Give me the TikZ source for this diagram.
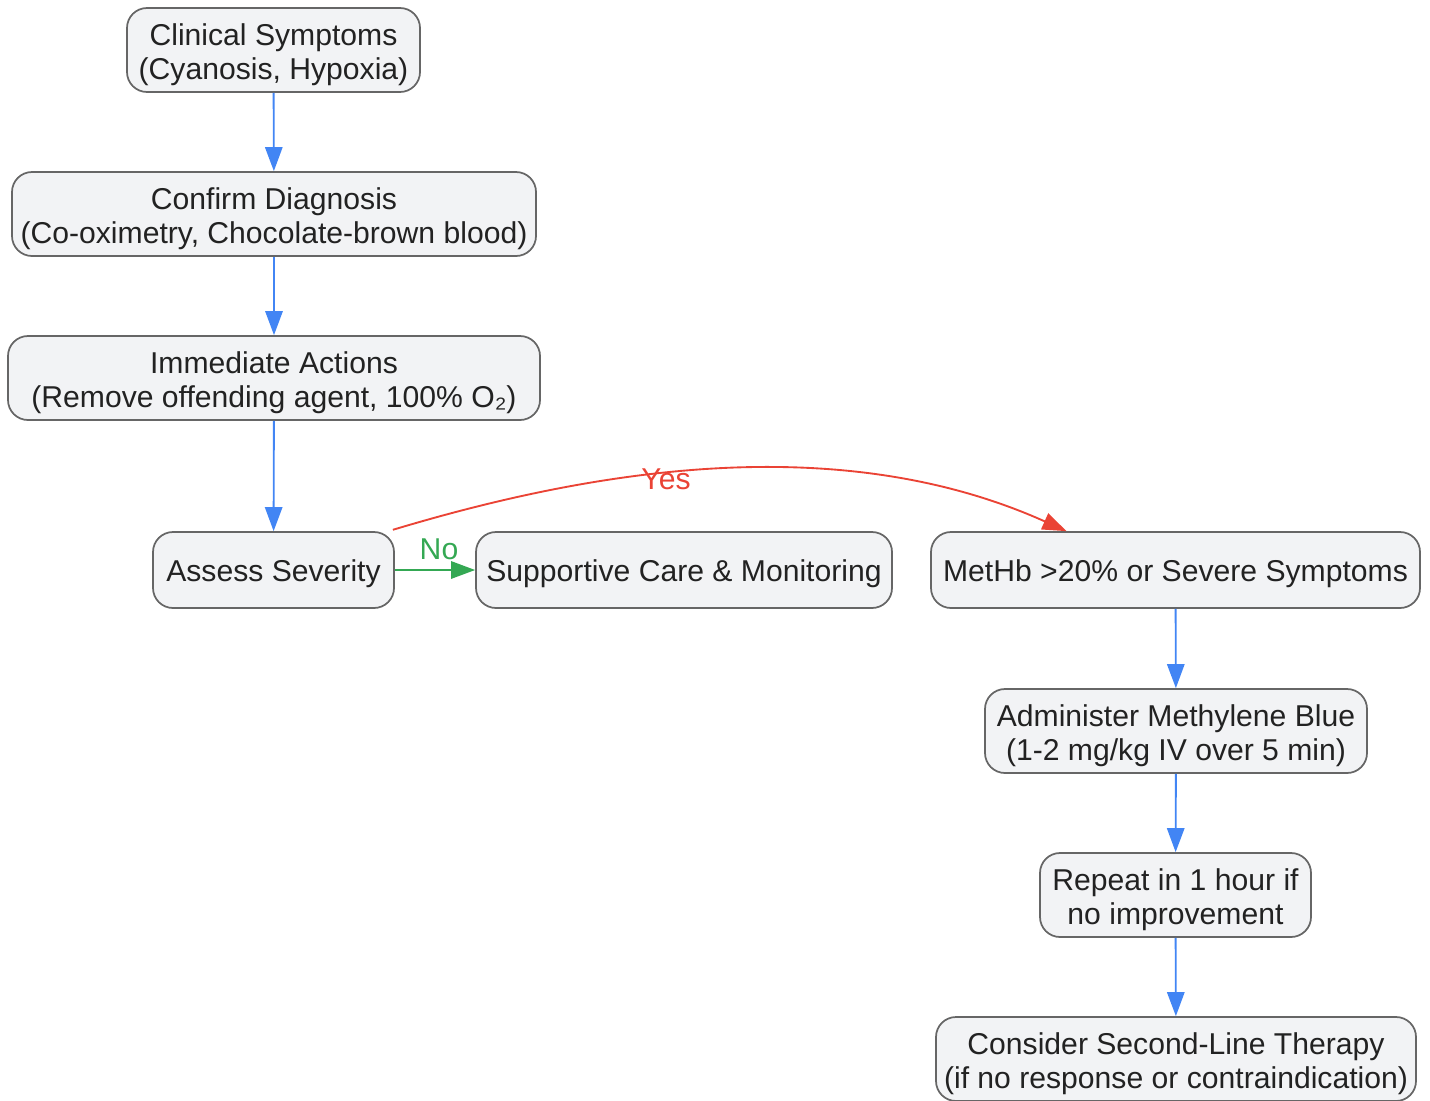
\documentclass[tikz,border=0pt]{standalone}
\usepackage{fontspec}
\setmainfont{Liberation Sans}
\usetikzlibrary{arrows.meta}
\definecolor{boxfill}{HTML}{F2F3F5}
\definecolor{boxline}{HTML}{666666}
\definecolor{txt}{HTML}{222222}
\definecolor{flowblue}{HTML}{4285F4}
\definecolor{flowgreen}{HTML}{34A853}
\definecolor{flowred}{HTML}{EA4335}
\newcommand\twolines[2]{\raisebox{-4.1pt}[\height][\depth]{\begin{tabular}{@{}c@{}}#1\\#2\end{tabular}}}
\begin{document}
\begin{tikzpicture}[x=0.75pt,y=-0.75pt,
  box/.style={draw=boxline, fill=boxfill, line width=1.3pt, rounded corners=15pt,
    align=center, text=txt, font=\fontsize{22.6}{25.5}\selectfont, inner sep=0pt,
    minimum height=57pt,
    execute at begin node={\rule{0pt}{23.7pt}},
    execute at end node={\rule[-6pt]{0pt}{0pt}}},
  twoline/.style={minimum height=63pt},
  flow/.style={line width=1.4pt, -{Triangle[length=18pt,width=13pt]}},
  lbl/.style={font=\fontsize{22.6}{25.5}\selectfont, inner sep=0pt}]
\useasboundingbox (0,0) rectangle (1430,1100);

\node[box, twoline, minimum width=293*0.75pt] (clin) at (273.5,50) {\twolines{Clinical Symptoms}{(Cyanosis, Hypoxia)}};
\node[box, twoline, minimum width=524*0.75pt] (conf) at (274,214) {\twolines{Confirm Diagnosis}{(Co-oximetry, Chocolate-brown blood)}};
\node[box, twoline, minimum width=532*0.75pt] (imm) at (274,378) {\twolines{Immediate Actions}{(Remove offending agent, 100\% O₂)}};
\node[box, minimum width=241*0.75pt] (assess) at (273.5,570) {Assess Severity};
\node[box, minimum width=416*0.75pt] (supp) at (684,570) {Supportive Care \& Monitoring};
\node[box, minimum width=489*0.75pt] (methb) at (1175.5,570) {MetHb >20\% or Severe Symptoms};
\node[box, twoline, minimum width=382*0.75pt] (admin) at (1176,731) {\twolines{Administer Methylene Blue}{(1-2 mg/kg IV over 5 min)}};
\node[box, twoline, minimum width=271*0.75pt] (rep) at (1175.5,895) {\twolines{Repeat in 1 hour if}{no improvement}};
\node[box, twoline, minimum width=480*0.75pt] (cons) at (1176,1059) {\twolines{Consider Second-Line Therapy}{(if no response or contraindication)}};

\draw[flow, flowblue] (clin) -- (conf);
\draw[flow, flowblue] (conf) -- (imm);
\draw[flow, flowblue] (imm) -- (assess);
\draw[flow, flowgreen] (assess) -- (supp);
\draw[flow, flowblue] (methb) -- (admin);
\draw[flow, flowblue] (admin) -- (rep);
\draw[flow, flowblue] (rep) -- (cons);

\coordinate (ystart) at ([xshift=-1.5pt,yshift=1pt]assess.north east);
\coordinate (yend) at ([xshift=-109*0.75pt]methb.north);
\draw[flow, flowred] (ystart) .. controls (575,475) and (830,425) .. (yend);

\node[lbl, text=flowred] (yes) at (666,479) {Yes};
\node[lbl, text=flowgreen] (no) at (439,549) {No};
\end{tikzpicture}
\end{document}
